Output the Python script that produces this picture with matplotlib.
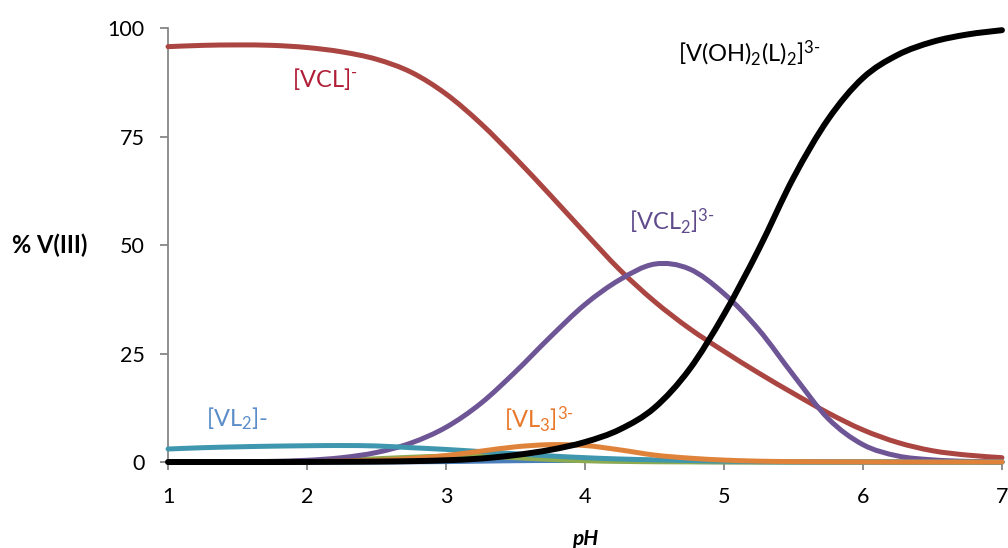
import numpy as np
import matplotlib
matplotlib.use("Agg")
import matplotlib.pyplot as plt
from matplotlib.path import Path
from matplotlib.patches import PathPatch

plt.rcParams["font.family"] = ["Lato", "DejaVu Sans"]
plt.rcParams["mathtext.fontset"] = "custom"
plt.rcParams["mathtext.rm"] = "Lato"
plt.rcParams["mathtext.it"] = "Lato:italic"
plt.rcParams["mathtext.bf"] = "Lato:bold"

# Speciation of V(III) versus pH
ph = [1.0, 1.25, 1.5, 1.75, 2.0, 2.25, 2.5, 2.75, 3.0, 3.25, 3.5, 3.75, 4.0,
      4.25, 4.5, 4.75, 5.0, 5.25, 5.5, 5.75, 6.0, 6.25, 6.5, 6.75, 7.0]

v_blue = [0, 0, 0, 0, 0, 0, 0, 0.05, 0.1, 0.2, 0.3, 0.35, 0.35,
          0.3, 0.2, 0.12, 0.06, 0.03, 0, 0, 0, 0, 0, 0, 0]
vcl = [95.7, 96.0, 96.1, 96.0, 95.5, 94.5, 92.8, 89.8, 84.8, 78.0, 70.0, 61.5, 52.8,
       44.3, 37.0, 30.8, 25.5, 20.5, 15.8, 11.3, 7.4, 4.5, 2.6, 1.6, 1.0]
v_green = [0, 0.02, 0.05, 0.1, 0.25, 0.45, 0.75, 1.1, 1.35, 1.35, 1.0, 0.6, 0.3,
           0.15, 0.06, 0.03, 0.01, 0, 0, 0, 0, 0, 0, 0, 0]
vcl2 = [0, 0, 0.05, 0.15, 0.4, 1.0, 2.2, 4.4, 8.0, 13.5, 20.8, 28.8, 36.3,
        42.0, 45.6, 44.5, 38.8, 30.5, 20.0, 10.0, 4.0, 1.4, 0.5, 0.15, 0.05]
vl2 = [3.0, 3.3, 3.5, 3.65, 3.75, 3.8, 3.7, 3.3, 2.9, 2.4, 1.9, 1.4, 1.0,
       0.7, 0.5, 0.35, 0.2, 0.1, 0.05, 0.02, 0.01, 0, 0, 0, 0]
vl3 = [0, 0, 0.02, 0.05, 0.1, 0.2, 0.4, 0.8, 1.5, 2.5, 3.5, 4.0, 3.8,
       2.8, 1.6, 0.9, 0.45, 0.2, 0.1, 0.05, 0.02, 0, 0, 0, 0]
voh2l2 = [0, 0, 0, 0, 0.02, 0.05, 0.1, 0.2, 0.4, 0.8, 1.6, 2.8, 4.6,
          7.5, 12.5, 21.3, 34.0, 49.0, 65.5, 79.0, 88.5, 93.8, 96.8, 98.5, 99.5]

series = [
    (v_blue, "#4A7EBB", 3.6),
    (vcl, "#AA4541", 3.6),
    (v_green, "#8CAA4E", 3.6),
    (vcl2, "#6E5596", 3.6),
    (vl2, "#3E97AE", 3.6),
    (vl3, "#E0833A", 3.6),
    (voh2l2, "#000000", 4.3),
]


def smooth_path(x, y):
    """Cardinal-spline path through the points (like a smoothed line chart)."""
    pts = np.column_stack([x, y]).astype(float)
    n = len(pts)
    verts = [pts[0]]
    codes = [Path.MOVETO]
    for i in range(n - 1):
        p0 = pts[i - 1] if i > 0 else pts[i]
        p1 = pts[i]
        p2 = pts[i + 1]
        p3 = pts[i + 2] if i + 2 < n else pts[i + 1]
        c1 = p1 + (p2 - p0) / 6.0
        c2 = p2 - (p3 - p1) / 6.0
        verts += [c1, c2, p2]
        codes += [Path.CURVE4] * 3
    return Path(verts, codes)


fig = plt.figure(figsize=(10.08, 5.48), dpi=100)
ax = fig.add_axes([0.1667, 0.1569, 0.8273, 0.792])

for z, (vals, color, lw) in enumerate(series):
    patch = PathPatch(smooth_path(ph, vals), facecolor="none", edgecolor=color,
                      lw=lw, capstyle="round", joinstyle="round", zorder=3 + z,
                      clip_on=False)
    ax.add_patch(patch)

ax.set_xlim(1, 7)
ax.set_ylim(0, 100)
ax.set_xticks([1, 2, 3, 4, 5, 6, 7])
ax.set_yticks([0, 25, 50, 75, 100])

for s in ["top", "right"]:
    ax.spines[s].set_visible(False)
for s in ["left", "bottom"]:
    ax.spines[s].set_color("#868686")
    ax.spines[s].set_linewidth(1.3)
ax.tick_params(axis="both", direction="out", length=6, width=1.3,
               color="#868686", labelsize=15.5, labelcolor="black")
ax.tick_params(axis="x", pad=12)
ax.tick_params(axis="y", pad=11)

ax.set_xlabel("pH", fontsize=15, fontweight="bold", fontstyle="italic",
              labelpad=16)
fig.text(0.012, 0.553, "% V(III)", fontsize=17, fontweight="bold",
         ha="left", va="center")

lab = 17
sup = r"$^{3\text{-}}$"
ax.text(1.892, 86.4, r"[VCL]$^{\text{-}}$", color="#B01E38", fontsize=lab,
        ha="left", va="baseline")
ax.text(1.273, 8.1, r"[VL$_2$]-", color="#5B8DC9", fontsize=lab,
        ha="left", va="baseline")
ax.text(3.417, 7.8, r"[VL$_3$]" + sup, color="#E8782A", fontsize=lab,
        ha="left", va="baseline")
ax.text(4.317, 53.5, r"[VCL$_2$]" + sup, color="#5F4B8B", fontsize=lab,
        ha="left", va="baseline")
ax.text(4.67, 92.3, r"[V(OH)$_2$(L)$_2$]" + sup, color="black", fontsize=lab,
        ha="left", va="baseline")

fig.savefig("out.png", dpi=100)
